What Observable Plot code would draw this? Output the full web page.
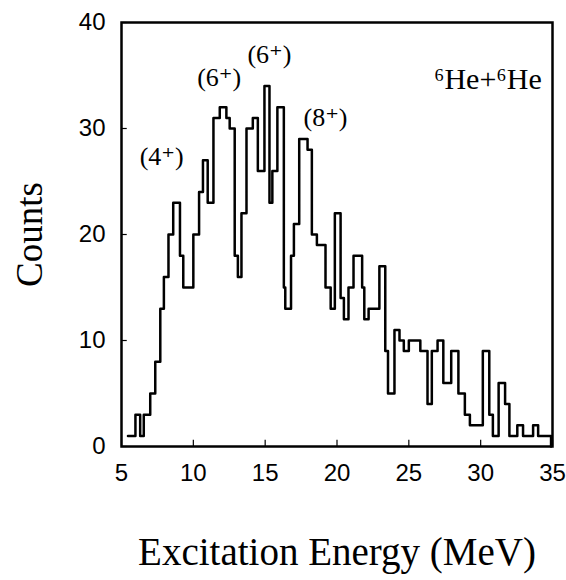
<!DOCTYPE html>
<html>
<head>
<meta charset="utf-8">
<script src="https://cdn.jsdelivr.net/npm/d3@7"></script>
<script src="https://cdn.jsdelivr.net/npm/@observablehq/plot@0.6"></script>
<style>
  html, body { margin: 0; padding: 0; background: white; }
</style>
</head>
<body>
<div id="chart"></div>
<script>
// Step positions (MeV) where the histogram count changes, and the count from there on
const stepEnergy = [5.45, 5.97, 6.3, 6.55, 7.0, 7.35, 7.7, 7.95, 8.27, 8.6, 9.07, 9.3, 10.0, 10.4, 10.67,
  11.0, 11.4, 11.84, 12.3, 12.53, 12.88, 13.1, 13.35, 13.7, 14.14, 14.49, 14.95, 15.3, 15.5, 15.85,
  16.3, 16.4, 16.8, 17.0, 17.37, 17.95, 18.25, 18.6, 19.2, 19.56, 19.85, 20.25, 20.48, 20.8, 21.15,
  21.75, 21.9, 22.2, 22.95, 23.36, 23.55, 24.0, 24.35, 24.65, 25.0, 25.8, 26.3, 26.6, 27.0, 27.4,
  27.95, 28.45, 28.9, 29.25, 30.15, 30.6, 30.85, 31.25, 31.7, 32.0, 32.55, 32.95, 33.65, 34.0, 34.9];
const stepCounts = [1, 3, 1, 3, 5, 8, 13, 16, 20, 23, 18, 15, 20, 24, 27,
  23, 31, 32, 31, 30, 18, 16, 22, 30, 31, 26, 34, 23, 26, 32,
  15, 13, 18, 21, 29, 28, 20, 19, 15, 13, 22, 14, 12, 15, 18,
  15, 12, 13, 17, 9, 5, 11, 10, 9, 10, 9, 4, 9, 10, 6,
  9, 5, 3, 2, 9, 3, 1, 6, 4, 1, 2, 1, 2, 1, 0];

// Peak annotations
const peakLabels = ["(4\u207A)", "(6\u207A)", "(6\u207A)", "(8\u207A)"];
const peakEnergy = [7.8, 11.8, 15.3, 19.2];
const peakCount = [27.3, 34.8, 37.0, 31.0];

const reactionLabel = ["\u2076He+\u2076He"];
const reactionEnergy = [30.5];
const reactionCount = [34.6];

const xTicks = [5, 10, 15, 20, 25, 30, 35];
const yTicks = [0, 10, 20, 30, 40];
const xTitle = "Excitation Energy (MeV)";
const yTitle = "Counts";

const hist = stepEnergy.map((e, i) => ({e, c: stepCounts[i]}));
const peaks = peakLabels.map((t, i) => ({t, e: peakEnergy[i], c: peakCount[i]}));
const reaction = reactionLabel.map((t, i) => ({t, e: reactionEnergy[i], c: reactionCount[i]}));

const serif = "'Liberation Serif', 'Times New Roman', 'DejaVu Serif', serif";

const chart = Plot.plot({
  width: 566,
  height: 580,
  marginLeft: 121,
  marginRight: 14,
  marginTop: 22,
  marginBottom: 134,
  style: {background: "white", color: "black", fontFamily: "'Liberation Sans', Arial, sans-serif", fontSize: "24px"},
  x: {domain: [5, 35]},
  y: {domain: [0, 40]},
  marks: [
    Plot.axisX(xTicks, {tickSize: 0, tickPadding: 17, label: null, fontSize: 24}),
    Plot.axisY(yTicks, {tickSize: 0, tickPadding: 16, label: null, fontSize: 24}),
    Plot.ruleX(xTicks, {x: d => d, y1: 0, y2: 0.6, stroke: "black", strokeWidth: 1.2}),
    Plot.ruleY(yTicks, {y: d => d, x1: 5, x2: 5.4, stroke: "black", strokeWidth: 1.2}),
    Plot.line(hist, {x: "e", y: "c", curve: "step-after", stroke: "black", strokeWidth: 2.5}),
    Plot.frame({stroke: "black", strokeWidth: 2.5}),
    Plot.text(peaks, {x: "e", y: "c", text: "t", fontFamily: serif, fontSize: 26, fill: "black"}),
    Plot.text(reaction, {x: "e", y: "c", text: "t", fontFamily: serif, fontSize: 30, fill: "black"}),
    Plot.text([yTitle], {frameAnchor: "left", textAnchor: "middle", lineAnchor: "middle", rotate: -90, dx: -91, fontFamily: serif, fontSize: 37, fill: "black"}),
    Plot.text([xTitle], {frameAnchor: "bottom", textAnchor: "middle", lineAnchor: "bottom", dy: 118, fontFamily: serif, fontSize: 39, fill: "black"})
  ]
});
document.getElementById("chart").appendChild(chart);
</script>
</body>
</html>
